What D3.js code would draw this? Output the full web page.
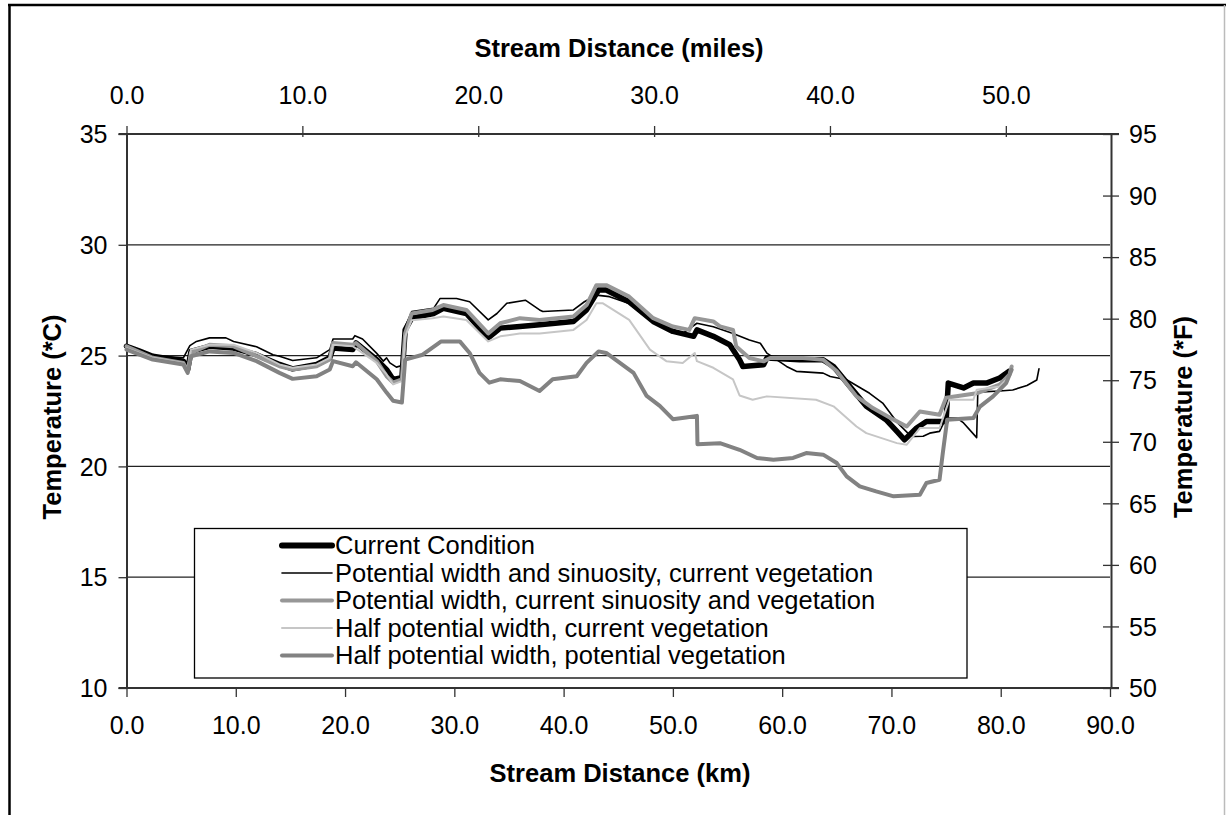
<!DOCTYPE html>
<html>
<head>
<meta charset="utf-8">
<script src="https://cdn.jsdelivr.net/npm/d3@7"></script>
<style>
  html, body { margin: 0; padding: 0; background: #fff; }
  svg { display: block; }
  text { font-family: "Liberation Sans", Arial, sans-serif; fill: #000; }
</style>
</head>
<body>
<svg id="chart" width="1226" height="815"></svg>
<script>
// Axis tick values
const kmTicks = [0, 10, 20, 30, 40, 50, 60, 70, 80, 90];
const mileTicks = [0, 10, 20, 30, 40, 50];
const celsiusTicks = [10, 15, 20, 25, 30, 35];
const fahrenheitTicks = [50, 55, 60, 65, 70, 75, 80, 85, 90, 95];
const gridTicks = [15, 20, 25, 30];

// Series names (legend order)
const seriesNames = [
  "Current Condition",
  "Potential width and sinuosity, current vegetation",
  "Potential width, current sinuosity and vegetation",
  "Half potential width, current vegetation",
  "Half potential width, potential vegetation"
];

// Current Condition
const currentKm = [0, 1.2, 2.4, 4, 5.2, 5.6, 5.9, 7.6, 9.8, 11.9, 14, 15.2, 17.4, 18.6, 18.9, 20.7, 21, 22.9, 23.8, 24.4, 25.2, 25.5, 26.1, 28.1, 29, 31.1, 33.1, 34.2, 36, 37.8, 40.9, 42.1, 43.2, 43.9, 46, 48.2, 50, 51.9, 52.2, 53.7, 55.2, 56.1, 56.4, 58.3, 58.6, 61.6, 63.75, 64.7, 66.2, 67.7, 69.5, 70.5, 71.2, 72.3, 73.2, 75, 75.2, 76.6, 77.5, 78.7, 79.9, 80.8];
const currentTemp = [25.42, 25.2, 24.97, 24.85, 24.75, 24.37, 25.19, 25.42, 25.34, 25.04, 24.6, 24.4, 24.6, 24.9, 25.34, 25.27, 25.57, 24.82, 24.37, 23.92, 24.0, 26.16, 26.69, 26.9, 27.13, 26.9, 25.8, 26.24, 26.31, 26.39, 26.54, 27.06, 27.96, 27.96, 27.43, 26.54, 26.09, 25.87, 26.16, 25.87, 25.49, 24.81, 24.51, 24.59, 24.89, 24.81, 24.81, 24.51, 23.61, 22.71, 22.11, 21.58, 21.2, 21.73, 22.03, 22.03, 23.76, 23.54, 23.76, 23.76, 23.99, 24.3];

// Potential width and sinuosity, current vegetation
const widthSinKm = [0, 2.4, 5.2, 5.8, 6.4, 7.6, 9.1, 9.8, 11.9, 13.4, 14, 15.2, 17.4, 18.6, 18.9, 20.7, 20.9, 21.6, 22.9, 23.5, 23.8, 24.1, 24.7, 25.2, 25.5, 26.1, 28.1, 28.7, 30.2, 31.4, 33.1, 33.9, 34.8, 36.5, 37.8, 38.1, 40.9, 41.9, 43, 44.2, 46.4, 48.2, 49.4, 50.9, 52.2, 53.7, 55.5, 57, 58, 58.6, 60.4, 61.3, 63.75, 64.4, 65.9, 68, 69.2, 70.5, 71.5, 72, 72.9, 73.5, 74.4, 75, 76, 76.6, 77.8, 77.9, 79.9, 81.1, 82.4, 83.3, 83.5];
const widthSinTemp = [25.49, 25.0, 24.9, 25.45, 25.64, 25.8, 25.8, 25.64, 25.4, 25.04, 24.97, 24.78, 24.9, 25.27, 25.75, 25.75, 25.9, 25.75, 25.1, 24.75, 24.9, 24.67, 24.48, 24.55, 26.3, 26.99, 27.13, 27.58, 27.58, 27.43, 26.61, 26.9, 27.36, 27.5, 27.06, 26.99, 27.06, 27.43, 27.73, 27.66, 27.28, 26.6, 26.3, 26.0, 26.46, 26.3, 26.0, 25.7, 25.56, 25.11, 24.51, 24.29, 24.21, 24.06, 23.91, 23.3, 22.86, 22.0, 21.5, 21.35, 21.36, 21.5, 21.58, 22.18, 22.18, 21.96, 21.3, 23.35, 23.4, 23.45, 23.65, 23.9, 24.4];

// Potential width, current sinuosity and vegetation
const widthKm = [0, 2.4, 5.2, 5.6, 5.9, 7.6, 9.8, 11.9, 14, 15.2, 17.4, 18.6, 18.9, 20.7, 21, 22.9, 23.8, 24.4, 25.2, 25.5, 26.1, 28, 29, 31.1, 33.1, 34.2, 36, 37.8, 40.9, 42.1, 43, 43.9, 46, 48.2, 50, 51.5, 52, 53.7, 54.3, 55.5, 55.8, 57, 58.3, 58.9, 61.9, 63.75, 65, 66.8, 68.3, 70.2, 71.4, 72.6, 74.4, 75, 77.8, 79.9, 80.8, 81];
const widthTemp = [25.42, 24.9, 24.67, 24.3, 25.12, 25.49, 25.42, 24.97, 24.52, 24.37, 24.52, 24.82, 25.57, 25.49, 25.57, 24.75, 24.07, 23.78, 23.93, 26.0, 26.9, 27.06, 27.28, 27.06, 26.0, 26.46, 26.69, 26.61, 26.76, 27.28, 28.18, 28.18, 27.66, 26.69, 26.31, 26.16, 26.69, 26.54, 26.32, 26.16, 25.41, 24.89, 24.74, 24.89, 24.89, 24.81, 24.29, 23.16, 22.63, 22.11, 21.8, 22.48, 22.33, 23.1, 23.3, 23.69, 24.14, 24.51];

// Half potential width, current vegetation
const halfCurKm = [0, 2.4, 5.2, 5.6, 5.9, 7.6, 9.8, 11.9, 14, 15.2, 17.4, 18.6, 18.9, 20.7, 22.9, 23.8, 24.4, 25.2, 25.5, 26.1, 28, 29, 31.1, 33.1, 34.2, 36, 37.8, 40.9, 42.1, 43, 43.6, 46, 47.9, 49.4, 50.9, 52, 52.2, 53.7, 55.5, 56.1, 57.3, 58.6, 63.1, 64.7, 66.8, 67.7, 70.5, 71.4, 72.6, 74.4, 75.3, 77.5, 77.8, 79.9, 80.8];
const halfCurTemp = [25.34, 24.9, 24.67, 24.37, 25.27, 25.49, 25.49, 25.12, 24.6, 24.45, 24.6, 24.9, 25.49, 25.42, 24.67, 24.15, 23.7, 23.85, 25.87, 26.6, 26.69, 26.76, 26.61, 25.64, 25.87, 26.0, 26.0, 26.16, 26.61, 27.36, 27.36, 26.61, 25.27, 24.75, 24.67, 25.12, 24.75, 24.45, 23.93, 23.2, 23.01, 23.16, 23.01, 22.71, 21.8, 21.5, 21.05, 20.98, 21.73, 21.73, 23.01, 23.01, 23.46, 23.61, 24.06];

// Half potential width, potential vegetation
const halfPotKm = [0, 2.4, 5.2, 5.6, 5.9, 7.6, 9.8, 11.9, 14, 15.2, 17.4, 18.6, 18.9, 20.7, 21, 22.9, 23.8, 24.4, 25.2, 25.5, 27.1, 28.8, 30.5, 31.4, 32.3, 33.2, 34.2, 36, 37.8, 39, 41.2, 42.1, 43.2, 43.9, 46.4, 47.6, 48.8, 50, 51.2, 52.2, 52.25, 54.3, 56.1, 57.7, 59.2, 61, 62.2, 63.75, 65, 65.9, 67.1, 68.6, 70.2, 72.6, 73.2, 74.4, 74.7, 75.1, 77.5, 78.1, 79.3, 80.5, 81];
const halfPotTemp = [25.27, 24.82, 24.6, 24.22, 24.97, 25.19, 25.12, 24.75, 24.22, 23.95, 24.07, 24.37, 24.75, 24.52, 24.7, 23.93, 23.33, 22.96, 22.88, 24.82, 25.04, 25.64, 25.64, 25.12, 24.22, 23.78, 23.93, 23.85, 23.4, 23.93, 24.07, 24.67, 25.19, 25.12, 24.22, 23.18, 22.73, 22.13, 22.21, 22.28, 21.0, 21.05, 20.75, 20.38, 20.3, 20.38, 20.6, 20.53, 20.15, 19.55, 19.1, 18.87, 18.65, 18.72, 19.25, 19.4, 20.6, 22.1, 22.18, 22.7, 23.16, 23.76, 24.36];

const seriesKm = [currentKm, widthSinKm, widthKm, halfCurKm, halfPotKm];
const seriesTemp = [currentTemp, widthSinTemp, widthTemp, halfCurTemp, halfPotTemp];
const seriesStyle = [
  { color: "#000000", width: 5.5 },
  { color: "#000000", width: 1.6 },
  { color: "#979797", width: 4 },
  { color: "#c6c6c6", width: 2 },
  { color: "#828282", width: 4 }
];

const KM_PER_MILE = 1.609344;

const svg = d3.select("#chart");

// Outer frame
svg.append("line").attr("x1", 9.5).attr("y1", 4).attr("x2", 9.5).attr("y2", 815)
  .attr("stroke", "#000").attr("stroke-width", 2.5);
svg.append("line").attr("x1", 8).attr("y1", 5).attr("x2", 1226).attr("y2", 5)
  .attr("stroke", "#000").attr("stroke-width", 2.5);
svg.append("line").attr("x1", 1224.5).attr("y1", 5).attr("x2", 1224.5).attr("y2", 815)
  .attr("stroke", "#bbb").attr("stroke-width", 1.5);

// Scales
const x = d3.scaleLinear().domain([0, 90]).range([126.5, 1110]);
const xMiles = d3.scaleLinear().domain([0, 90 / KM_PER_MILE]).range([126.5, 1110]);
const y = d3.scaleLinear().domain([10, 35]).range([688, 134]);
const yF = d3.scaleLinear().domain([50, 95]).range([688, 134]);

const fmt1 = d3.format(".1f");
const tickFont = "25px";

// Horizontal gridlines
svg.append("g").selectAll("line").data(gridTicks).join("line")
  .attr("x1", x(0)).attr("x2", x(90))
  .attr("y1", d => y(d)).attr("y2", d => y(d))
  .attr("stroke", "#222").attr("stroke-width", 1.2);

// Bottom axis (km)
const gBottom = svg.append("g").attr("transform", `translate(0,${y(10)})`)
  .call(d3.axisBottom(x).tickValues(kmTicks).tickFormat(fmt1).tickSizeInner(9).tickSizeOuter(0));
gBottom.select(".domain").attr("d", `M${x(0) - 8},0H${x(90) + 9}`).attr("stroke", "#333").attr("stroke-width", 2);
gBottom.selectAll(".tick line").attr("stroke", "#333").attr("stroke-width", 1.3);
gBottom.selectAll(".tick text").attr("y", 37).attr("dy", "0.35em")
  .style("font-size", tickFont).style("font-family", "Liberation Sans, Arial, sans-serif");

// Top axis (miles)
const gTop = svg.append("g").attr("transform", `translate(0,${y(35)})`)
  .call(d3.axisTop(xMiles).tickValues(mileTicks).tickFormat(fmt1).tickSizeInner(8).tickSizeOuter(0));
gTop.select(".domain").attr("d", `M${x(0) - 8},0H${x(90) + 9}`).attr("stroke", "#333").attr("stroke-width", 2);
gTop.selectAll(".tick line").attr("y1", 3).attr("y2", -8).attr("stroke", "#333").attr("stroke-width", 1.3);
gTop.selectAll(".tick text").attr("y", -39).attr("dy", "0.35em")
  .style("font-size", tickFont).style("font-family", "Liberation Sans, Arial, sans-serif");

// Left axis (Celsius)
const gLeft = svg.append("g").attr("transform", `translate(${x(0)},0)`)
  .call(d3.axisLeft(y).tickValues(celsiusTicks).tickFormat(d3.format("d")).tickSizeInner(8).tickSizeOuter(0));
gLeft.select(".domain").attr("stroke", "#333").attr("stroke-width", 2);
gLeft.selectAll(".tick line").attr("stroke", "#333").attr("stroke-width", 1.3);
gLeft.selectAll(".tick text").attr("x", -19).attr("dy", "0.35em")
  .style("font-size", tickFont).style("font-family", "Liberation Sans, Arial, sans-serif");

// Right axis (Fahrenheit)
const gRight = svg.append("g").attr("transform", `translate(${x(90) + 1},0)`)
  .call(d3.axisRight(yF).tickValues(fahrenheitTicks).tickFormat(d3.format("d")).tickSizeInner(8).tickSizeOuter(0));
gRight.select(".domain").attr("stroke", "#333").attr("stroke-width", 2);
gRight.selectAll(".tick line").attr("x1", -8).attr("x2", 8).attr("stroke", "#333").attr("stroke-width", 1.3);
gRight.selectAll(".tick text").attr("x", 18).attr("dy", "0.35em")
  .style("font-size", tickFont).style("font-family", "Liberation Sans, Arial, sans-serif");

svg.selectAll(".tick text").attr("fill", "#000");

// Axis titles
const titleStyle = sel => sel.attr("font-weight", "bold").attr("font-size", 25.5).attr("text-anchor", "middle");
svg.append("text").attr("x", 619).attr("y", 48).attr("dy", "0.35em").text("Stream Distance (miles)").call(titleStyle);
svg.append("text").attr("x", 620).attr("y", 773).attr("dy", "0.35em").text("Stream Distance (km)").call(titleStyle);
svg.append("text").attr("transform", "translate(52,417) rotate(-90)").attr("dy", "0.35em").text("Temperature (*C)").call(titleStyle);
svg.append("text").attr("transform", "translate(1183,417) rotate(-90)").attr("dy", "0.35em").text("Temperature (*F)").call(titleStyle);

// Temperature profiles
const line = d3.line().x(d => x(d[0])).y(d => y(d[1])).curve(d3.curveLinear);
const gSeries = svg.append("g");
seriesKm.forEach((kms, i) => {
  const pts = kms.map((k, j) => [k, seriesTemp[i][j]]);
  gSeries.append("path")
    .attr("d", line(pts))
    .attr("fill", "none")
    .attr("stroke", seriesStyle[i].color)
    .attr("stroke-width", seriesStyle[i].width)
    .attr("stroke-linejoin", "round")
    .attr("stroke-linecap", "round");
});

// Legend
const legend = svg.append("g");
legend.append("rect").attr("x", 194.5).attr("y", 528.5).attr("width", 772.5).attr("height", 149.5)
  .attr("fill", "#fff").attr("stroke", "#000").attr("stroke-width", 1.3);
const rowY = d3.scalePoint().domain(seriesNames).range([545.5, 655.5]);
seriesNames.forEach((name, i) => {
  legend.append("line")
    .attr("x1", 282).attr("x2", 332)
    .attr("y1", rowY(name)).attr("y2", rowY(name))
    .attr("stroke", seriesStyle[i].color)
    .attr("stroke-width", i === 0 ? 6 : seriesStyle[i].width)
    .attr("stroke-linecap", "round");
  legend.append("text")
    .attr("x", 335).attr("y", rowY(name)).attr("dy", "0.35em")
    .attr("font-size", 25.5)
    .text(name);
});
</script>
</body>
</html>
